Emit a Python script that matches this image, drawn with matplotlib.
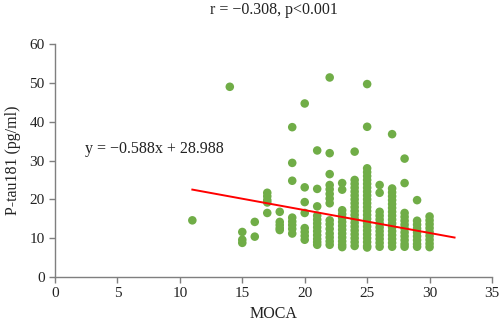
import numpy as np
import matplotlib
matplotlib.use("Agg")
import matplotlib.pyplot as plt

plt.rcParams['font.family'] = ['Liberation Serif', 'DejaVu Serif']

#____________ data ____________
# P-tau181 values grouped by MOCA score
ptau_by_moca = {
    11: [14.6],
    14: [49.0],
    15: [11.6, 9.6, 8.8],
    16: [14.2, 10.4],
    17: [21.7, 20.8, 19.8, 19.2, 16.5],
    18: [16.8, 14.2, 13.4, 12.6, 12.1],
    19: [38.6, 29.4, 24.8, 15.3, 14.3, 13.4, 12.4, 11.2],
    20: [44.7, 23.1, 19.3, 16.5, 12.6, 11.6, 10.6, 9.6],
    21: [32.6, 22.7, 18.2, 15.8, 14.8, 13.8, 12.8, 11.8, 10.8, 9.8, 9.0, 8.3],
    22: [51.4, 31.9, 26.5, 23.7, 22.6, 21.4, 20.2, 19.0,
         14.6, 13.6, 12.4, 11.2, 10.2, 9.2, 8.3],
    23: [24.2, 22.5, 17.2, 16.2, 15.2, 14.2, 13.2, 12.2, 11.2, 10.2, 9.2, 8.3, 7.7],
    24: [32.3, 25.0, 24.0, 23.0, 22.0, 21.0, 20.0, 19.0, 18.0, 17.0,
         16.0, 15.0, 14.0, 13.0, 12.0, 11.0, 10.0, 9.0, 8.0],
    25: [49.7, 38.7, 28.0, 27.0, 26.0, 25.0, 24.0, 23.0, 22.0, 21.0, 20.0,
         19.0, 18.0, 17.0, 16.0, 15.0, 14.0, 13.0, 12.0, 11.0, 10.0, 9.0, 8.0, 7.6],
    26: [23.7, 21.7, 16.8, 15.8, 14.8, 13.8, 12.8, 11.8, 10.8, 9.8, 8.8, 7.8],
    27: [36.8, 22.8, 21.8, 20.8, 19.8, 18.8, 17.8, 16.8, 15.8, 14.8,
         13.8, 12.8, 11.8, 10.8, 9.8, 8.8, 7.8],
    28: [30.5, 24.2, 16.5, 15.5, 14.5, 13.5, 12.5, 11.5, 10.5, 9.5, 8.5, 7.8],
    29: [19.8, 14.5, 13.5, 12.5, 11.5, 10.5, 9.5, 8.5, 7.8],
    30: [15.6, 14.6, 13.6, 12.6, 11.6, 10.6, 9.6, 8.6, 7.7],
}

moca = np.concatenate([[k] * len(v) for k, v in ptau_by_moca.items()])
ptau = np.concatenate([v for v in ptau_by_moca.values()])

slope = -0.588
intercept = 28.988
fit_x = np.array([11, 32])

x_ticks = [0, 5, 10, 15, 20, 25, 30, 35]
y_ticks = [0, 10, 20, 30, 40, 50, 60]

title = 'r = \u22120.308, p<0.001'
eq_label = 'y = \u22120.588x + 28.988'

#____________ plot ____________
fig = plt.figure(figsize=(5.0, 3.29), dpi=100)
ax = fig.add_axes([0.11, 0.158, 0.874, 0.708])

ax.scatter(moca, ptau, s=38, color='#70AD47', edgecolors='none', zorder=2)
ax.plot(fit_x, slope * fit_x + intercept, color='#FF0000', linewidth=1.4, zorder=3)

ax.set_xlim(0, 35)
ax.set_ylim(0, 60)
ax.set_xticks(x_ticks)
ax.set_yticks(y_ticks)

for side in ['top', 'right']:
    ax.spines[side].set_visible(False)
for side in ['left', 'bottom']:
    ax.spines[side].set_color('#7f7f7f')
    ax.spines[side].set_linewidth(1.0)
ax.tick_params(colors='#7f7f7f', labelcolor='#222222', labelsize=11,
               length=4, width=1.0, direction='out')

ax.set_xlabel('MOCA', fontsize=11.5, color='#222222', labelpad=4)
ax.set_ylabel('P-tau181 (pg/ml)', fontsize=11.5, color='#222222', labelpad=6)
ax.set_title(title, fontsize=11.5, color='#222222', pad=22)

ax.text(2.4, 33, eq_label, fontsize=11.5, color='#222222', va='center', ha='left')

fig.savefig('out.png', dpi=100)
